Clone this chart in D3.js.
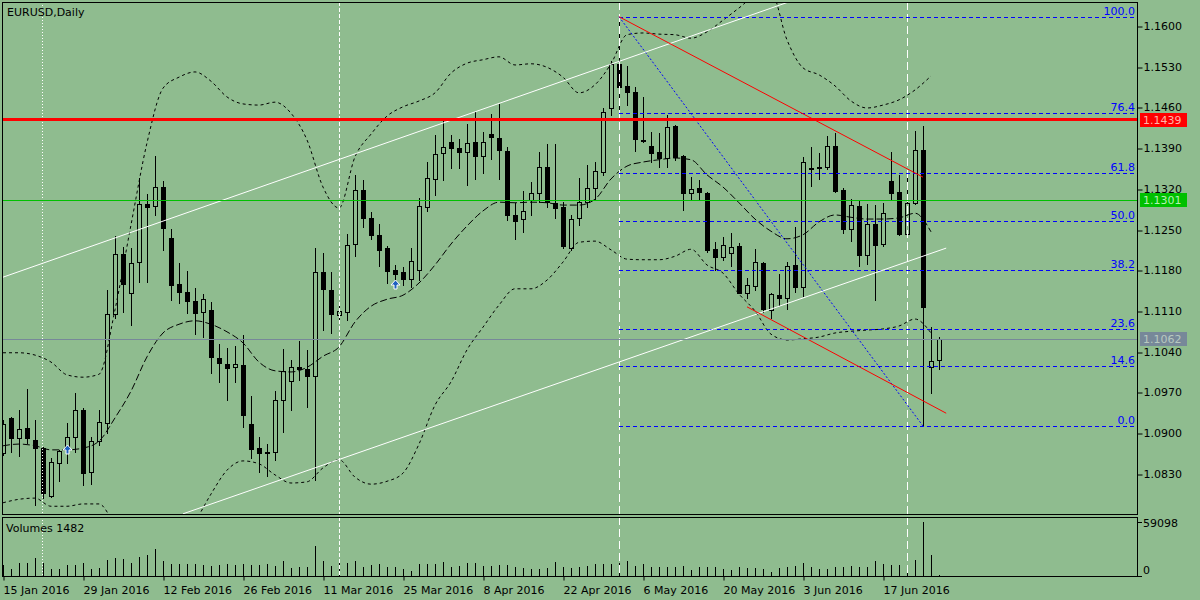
<!DOCTYPE html>
<html>
<head>
<meta charset="utf-8">
<script src="https://cdn.jsdelivr.net/npm/d3@7"></script>
<style>
  body { margin: 0; background: #8fbc8f; }
  svg { display: block; }
  text { font-family: "DejaVu Sans", sans-serif; font-size: 11px; }
</style>
</head>
<body>
<svg id="chart" width="1200" height="600"></svg>
<script>
// ---- daily bars, EURUSD ----
var opens = [1.0866,1.0926,1.0891,1.0909,1.0888,1.0874,1.0792,1.0848,1.0874,1.0893,
  1.0940,1.0833,1.0886,1.0917,1.1105,1.1208,1.1141,1.1194,1.1294,1.1290,
  1.1323,1.1235,1.1156,1.1142,1.1127,1.1108,1.1112,1.1029,1.1019,1.1013,
  1.1017,1.0915,1.0874,1.0866,1.0867,1.0957,1.0989,1.1013,1.1010,1.0998,
  1.1177,1.1146,1.1103,1.1108,1.1225,1.1318,1.1270,1.1241,1.1218,1.1180,
  1.1177,1.1165,1.1180,1.1289,1.1337,1.1382,1.1400,1.1390,1.1383,1.1400,
  1.1376,1.1414,1.1407,1.1385,1.1275,1.1268,1.1301,1.1313,1.1357,1.1296,
  1.1289,1.1218,1.1270,1.1297,1.1321,1.1349,1.1459,1.1535,1.1497,1.1486,
  1.1404,1.1394,1.1383,1.1373,1.1428,1.1376,1.1313,1.1321,1.1313,1.1216,
  1.1203,1.1210,1.1222,1.1141,1.1153,1.1192,1.1112,1.1137,1.1132,1.1189,
  1.1151,1.1356,1.1356,1.1357,1.1394,1.1318,1.1251,1.1290,1.1206,1.1259,
  1.1225,1.1333,1.1314,1.1242,1.1296,1.1387,1.1013,1.1026];
var highs = [1.0922,1.0927,1.0940,1.0976,1.0922,1.0876,1.0857,1.0871,1.0917,1.0969,
  1.0943,1.0893,1.0940,1.1146,1.1239,1.1220,1.1218,1.1339,1.1311,1.1376,
  1.1333,1.1251,1.1192,1.1179,1.1149,1.1139,1.1125,1.1053,1.1046,1.1050,
  1.1069,1.0964,1.0893,1.0881,1.0972,1.1044,1.1026,1.1058,1.1043,1.1218,
  1.1210,1.1177,1.1125,1.1242,1.1344,1.1335,1.1280,1.1259,1.1222,1.1189,
  1.1185,1.1218,1.1304,1.1366,1.1413,1.1440,1.1413,1.1406,1.1431,1.1452,
  1.1418,1.1449,1.1466,1.1392,1.1296,1.1316,1.1332,1.1383,1.1397,1.1397,
  1.1297,1.1275,1.1339,1.1361,1.1366,1.1459,1.1540,1.1616,1.1531,1.1495,
  1.1478,1.1418,1.1416,1.1447,1.1430,1.1378,1.1340,1.1335,1.1314,1.1228,
  1.1237,1.1244,1.1227,1.1167,1.1216,1.1194,1.1141,1.1173,1.1194,1.1254,
  1.1375,1.1392,1.1382,1.1411,1.1416,1.1321,1.1302,1.1301,1.1294,1.1292,
  1.1296,1.1383,1.1344,1.1352,1.1419,1.1428,1.1082,1.1065];
var lows = [1.0862,1.0867,1.0860,1.0883,1.0776,1.0788,1.0790,1.0817,1.0848,1.0867,
  1.0811,1.0812,1.0879,1.0900,1.1098,1.1108,1.1086,1.1160,1.1160,1.1275,
  1.1215,1.1129,1.1124,1.1106,1.1070,1.1065,1.1003,1.0988,1.0957,1.0988,
  1.0910,1.0857,1.0833,1.0826,1.0854,1.0902,1.0940,1.0991,1.0945,1.0819,
  1.1077,1.1072,1.1094,1.1094,1.1204,1.1254,1.1234,1.1187,1.1158,1.1156,
  1.1155,1.1151,1.1163,1.1282,1.1309,1.1335,1.1356,1.1356,1.1327,1.1337,
  1.1347,1.1371,1.1337,1.1266,1.1234,1.1246,1.1275,1.1297,1.1289,1.1270,
  1.1218,1.1215,1.1258,1.1289,1.1302,1.1344,1.1447,1.1447,1.1464,1.1385,
  1.1400,1.1366,1.1357,1.1357,1.1370,1.1284,1.1301,1.1301,1.1211,1.1180,
  1.1198,1.1187,1.1141,1.1132,1.1146,1.1108,1.1098,1.1120,1.1113,1.1142,
  1.1136,1.1325,1.1337,1.1354,1.1314,1.1244,1.1230,1.1187,1.1191,1.1129,
  1.1222,1.1301,1.1241,1.1237,1.1294,1.0912,1.0969,1.1010];
var closes = [1.0915,1.0891,1.0907,1.0891,1.0874,1.0797,1.0850,1.0869,1.0893,1.0940,
  1.0831,1.0886,1.0919,1.1105,1.1208,1.1156,1.1192,1.1294,1.1289,1.1323,
  1.1253,1.1155,1.1142,1.1127,1.1106,1.1130,1.1031,1.1020,1.1012,1.1019,
  1.0931,1.0872,1.0866,1.0867,1.0957,1.1007,1.1013,1.1010,1.0998,1.1177,
  1.1148,1.1105,1.1110,1.1223,1.1318,1.1270,1.1241,1.1215,1.1179,1.1173,
  1.1165,1.1196,1.1290,1.1339,1.1380,1.1392,1.1390,1.1383,1.1399,1.1376,
  1.1400,1.1409,1.1387,1.1275,1.1265,1.1282,1.1313,1.1357,1.1297,1.1287,
  1.1222,1.1268,1.1297,1.1321,1.1351,1.1452,1.1535,1.1495,1.1486,1.1406,
  1.1402,1.1382,1.1373,1.1426,1.1375,1.1313,1.1320,1.1314,1.1215,1.1203,
  1.1223,1.1220,1.1141,1.1155,1.1194,1.1113,1.1139,1.1132,1.1187,1.1151,
  1.1366,1.1354,1.1357,1.1394,1.1316,1.1251,1.1292,1.1206,1.1259,1.1223,
  1.1278,1.1313,1.1242,1.1296,1.1387,1.1117,1.1024,1.1062];
var volumes = [12000,7660,13890,13890,19360,13890,7660,7660,12030,12030,
  13890,7660,8420,17500,19360,18270,13890,21110,22970,29210,
  16410,12800,12800,12800,12800,12030,10940,12030,12800,12030,
  12800,12030,12030,12800,10940,16410,9080,10170,10170,32820,
  16410,10940,13890,14550,16410,10170,12030,12800,10170,9520,
  7660,5470,12800,12800,12800,15320,10170,10940,13890,13890,
  10940,11270,12030,12030,9520,8420,7660,7660,8420,15320,
  9520,8420,10170,10940,12800,12800,12800,14550,16410,10940,
  12800,9520,9520,9520,9520,10940,6560,9520,9520,9520,
  7660,6560,9520,8420,8420,7660,4700,8420,10170,10940,
  14550,9520,7660,7660,9520,10170,10940,10170,9520,16410,
  12800,12030,12030,10940,17500,59098,22970,1482];

// Bollinger bands, read every second bar (bar 0, 2, 4 ... 116)
var bbUpper = [1.1038,1.1038,1.1034,1.1022,1.1000,1.0996,1.1001,1.1112,1.1258,1.1399,
  1.1493,1.1512,1.1521,1.1505,1.1478,1.1466,1.1464,1.1469,1.1450,1.1404,
  1.1323,1.1287,1.1375,1.1414,1.1445,1.1461,1.1471,1.1485,1.1519,1.1536,
  1.1542,1.1547,1.1533,1.1535,1.1529,1.1512,1.1485,1.1499,1.1535,1.1585,
  1.1588,1.1586,1.1585,1.1579,1.1590,1.1610,1.1631,1.1652,1.1658,1.1576,
  1.1528,1.1516,1.1497,1.1471,1.1459,1.1464,1.1473,1.1490,1.1514];
var bbMiddle = [1.0878,1.0881,1.0878,1.0871,1.0871,1.0874,1.0886,1.0926,1.0972,1.1031,
  1.1072,1.1087,1.1093,1.1087,1.1074,1.1055,1.1022,1.1007,1.1005,1.1013,
  1.1032,1.1048,1.1091,1.1118,1.1130,1.1137,1.1158,1.1189,1.1225,1.1256,
  1.1282,1.1297,1.1296,1.1297,1.1296,1.1292,1.1292,1.1302,1.1337,1.1359,
  1.1366,1.1370,1.1373,1.1370,1.1344,1.1323,1.1296,1.1268,1.1247,1.1234,
  1.1241,1.1263,1.1275,1.1271,1.1268,1.1268,1.1270,1.1278,1.1246];
var bbLower = [1.0780,1.0786,1.0788,1.0774,1.0774,1.0778,1.0778,1.0742,1.0707,1.0682,
  1.0682,1.0707,1.0747,1.0795,1.0836,1.0852,1.0847,1.0828,1.0814,1.0816,
  1.0840,1.0854,1.0824,1.0812,1.0817,1.0831,1.0881,1.0948,1.0988,1.1043,
  1.1082,1.1120,1.1148,1.1148,1.1163,1.1194,1.1228,1.1230,1.1215,1.1199,
  1.1198,1.1198,1.1204,1.1216,1.1189,1.1175,1.1139,1.1110,1.1070,1.1060,
  1.1062,1.1065,1.1072,1.1075,1.1077,1.1079,1.1084,1.1096,1.1072];
var bbBars = d3.range(0, 117, 2);

// axis ticks
var priceTicks = [1.1600,1.1530,1.1460,1.1390,1.1320,1.1250,1.1180,1.1110,1.1040,1.0970,1.0900,1.0830];
var dateBars = [0,10,20,30,40,50,60,70,80,90,100,110];
var dateLabels = ["15 Jan 2016","29 Jan 2016","12 Feb 2016","26 Feb 2016","11 Mar 2016","25 Mar 2016",
  "8 Apr 2016","22 Apr 2016","6 May 2016","20 May 2016","3 Jun 2016","17 Jun 2016"];
var volTicks = [59098, 0];

// objects drawn on the chart: [bar, price] pairs
var channelUpper = [[0, 1.1168], [100, 1.1650]];
var channelLower = [[22.5, 1.0761], [117.9, 1.1218]];
var redTrendUpper = [[77, 1.1616], [115, 1.1340]];
var redTrendLower = [[93, 1.1117], [117.9, 1.0934]];
var fibAnchor = [[77, 1.1616], [115, 1.0912]];
var fibLevels = [0, 14.6, 23.6, 38.2, 50.0, 61.8, 76.4, 100.0];
var hLinePrices = [1.1439, 1.1301, 1.1062];   // resistance, support, bid
var vLineBars = [4.9, 42, 77, 113];
var arrowBars = [8, 49];
var arrowPrices = [1.0871, 1.1155];

// ---- layout ----
var bg = "#8fbc8f";
var left = 2, right = 1137, mainTop = 2, mainBot = 514, volTop = 517, volBot = 576;

var svg = d3.select("#chart");
var x = d3.scaleLinear().domain([0, 117]).range([3, 939]);
var y = d3.scaleLinear().domain([1.0900, 1.1600]).range([433, 26]);
var yVol = d3.scaleLinear().domain([0, 59098]).range([volBot, 522]);

svg.append("rect").attr("width", 1200).attr("height", 600).attr("fill", bg);

var defs = svg.append("defs");
defs.append("clipPath").attr("id", "mainclip").append("rect")
    .attr("x", left + 1).attr("y", mainTop + 1)
    .attr("width", right - left - 1).attr("height", mainBot - mainTop - 1);
defs.append("clipPath").attr("id", "volclip").append("rect")
    .attr("x", left + 1).attr("y", volTop + 1)
    .attr("width", right - left - 1).attr("height", volBot - volTop);

function px(v) { return Math.round(v) + 0.5; }

var main = svg.append("g").attr("clip-path", "url(#mainclip)");
var vol = svg.append("g").attr("clip-path", "url(#volclip)");

// ---- candles ----
var bars = opens.map(function(o, i){
    return {i: i, o: o, h: highs[i], l: lows[i], c: closes[i]};
});

main.selectAll(".wick").data(bars).join("line")
    .attr("x1", function(d){ return px(x(d.i)); })
    .attr("x2", function(d){ return px(x(d.i)); })
    .attr("y1", function(d){ return Math.round(y(d.h)); })
    .attr("y2", function(d){ return Math.round(y(d.l)) + 1; })
    .attr("stroke", "#000").attr("stroke-width", 1);

main.selectAll(".bear").data(bars.filter(function(d){ return d.c < d.o; })).join("rect")
    .attr("x", function(d){ return Math.round(x(d.i)) - 2; })
    .attr("y", function(d){ return Math.round(y(d.o)); })
    .attr("width", 5)
    .attr("height", function(d){ return Math.max(1, Math.round(y(d.c)) - Math.round(y(d.o)) + 1); })
    .attr("fill", "#000");

main.selectAll(".bull").data(bars.filter(function(d){ return d.c >= d.o; })).join("rect")
    .attr("x", function(d){ return Math.round(x(d.i)) - 1.5; })
    .attr("y", function(d){ return Math.round(y(d.c)) + 0.5; })
    .attr("width", 4)
    .attr("height", function(d){ return Math.max(0, Math.round(y(d.o)) - Math.round(y(d.c))); })
    .attr("fill", bg).attr("stroke", "#000").attr("stroke-width", 1);

// ---- bollinger bands ----
var bbLine = d3.line()
    .x(function(d, k){ return x(bbBars[k]); })
    .y(function(d){ return y(d); })
    .curve(d3.curveMonotoneX);

[[bbUpper, "3,3"], [bbLower, "3,3"], [bbMiddle, "7,3"]].forEach(function(b){
    main.append("path").datum(b[0])
        .attr("d", bbLine)
        .attr("fill", "none").attr("stroke", "#000").attr("stroke-width", 1)
        .attr("stroke-dasharray", b[1]);
});

// ---- volumes ----
vol.selectAll(".vbar").data(volumes).join("line")
    .attr("x1", function(d, i){ return px(x(i)); })
    .attr("x2", function(d, i){ return px(x(i)); })
    .attr("y1", volBot)
    .attr("y2", function(d){ return Math.round(yVol(d)); })
    .attr("stroke", "#000").attr("stroke-width", 1);

// ---- vertical separator lines ----
var vDash = ["1,2", "4,2", "8,4", "8,4"];
vLineBars.forEach(function(b, k){
    [[main, mainTop, mainBot], [vol, volTop, volBot]].forEach(function(p){
        p[0].append("line")
            .attr("x1", px(x(b))).attr("x2", px(x(b)))
            .attr("y1", p[1]).attr("y2", p[2])
            .attr("stroke", "#fff").attr("stroke-width", 1)
            .attr("stroke-dasharray", vDash[k]);
    });
});

// ---- fibonacci retracement ----
var fibHi = fibAnchor[0][1], fibLo = fibAnchor[1][1];
fibLevels.forEach(function(lv){
    var p = fibLo + (fibHi - fibLo) * lv / 100;
    var yy = px(y(p));
    main.append("line")
        .attr("x1", x(fibAnchor[0][0])).attr("x2", right)
        .attr("y1", yy).attr("y2", yy)
        .attr("stroke", "#0000ff").attr("stroke-width", 1)
        .attr("stroke-dasharray", "4,3");
    main.append("text")
        .attr("x", right - 2).attr("y", yy - 3)
        .attr("text-anchor", "end").attr("fill", "#0000ff")
        .text(lv.toFixed(1));
});
main.append("line")
    .attr("x1", x(fibAnchor[0][0])).attr("y1", y(fibAnchor[0][1]))
    .attr("x2", x(fibAnchor[1][0])).attr("y2", y(fibAnchor[1][1]))
    .attr("stroke", "#0000ff").attr("stroke-width", 1).attr("stroke-dasharray", "2,2");

// ---- trend lines / channel ----
function trend(pts, color){
    main.append("line")
        .attr("x1", x(pts[0][0])).attr("y1", y(pts[0][1]))
        .attr("x2", x(pts[1][0])).attr("y2", y(pts[1][1]))
        .attr("stroke", color).attr("stroke-width", 1);
}
trend(channelUpper, "#fff");
trend(channelLower, "#fff");
trend(redTrendUpper, "#ff0000");
trend(redTrendLower, "#ff0000");

// ---- horizontal levels ----
var hColors = ["#ff0000", "#00c000", "#778899"];
var hWidths = [3, 1, 1];
var hTextColors = ["#ffb4a8", "#b4f0b4", "#b8c8c0"];
hLinePrices.forEach(function(p, k){
    main.append("line")
        .attr("x1", left).attr("x2", right)
        .attr("y1", hWidths[k] == 1 ? px(y(p)) : y(p))
        .attr("y2", hWidths[k] == 1 ? px(y(p)) : y(p))
        .attr("stroke", hColors[k]).attr("stroke-width", hWidths[k]);
});

// ---- buy arrows ----
arrowBars.forEach(function(b, k){
    var cx = Math.round(x(b)) + 0.5, cy = Math.round(y(arrowPrices[k]));
    main.append("path")
        .attr("d", "M0,-5 L4.5,0 L1.5,0 L1.5,4 L-1.5,4 L-1.5,0 L-4.5,0 Z")
        .attr("transform", "translate(" + cx + "," + cy + ")")
        .attr("fill", "#1f60c0").attr("stroke", "#fff").attr("stroke-width", 1);
});

// ---- frames ----
svg.append("rect").attr("x", left + 0.5).attr("y", mainTop + 0.5)
    .attr("width", right - left).attr("height", mainBot - mainTop)
    .attr("fill", "none").attr("stroke", "#000");
svg.append("rect").attr("x", left + 0.5).attr("y", volTop + 0.5)
    .attr("width", right - left).attr("height", volBot - volTop)
    .attr("fill", "none").attr("stroke", "#000");

// ---- price axis ----
var yAxis = svg.append("g")
    .attr("transform", "translate(" + (right + 0.5) + ",0)")
    .call(d3.axisRight(y).tickValues(priceTicks).tickSize(5).tickPadding(1)
        .tickFormat(d3.format(".4f")));
yAxis.select(".domain").remove();
yAxis.selectAll("line").attr("stroke", "#000").attr("transform", function(d){
    return "translate(0," + (px(y(d)) - y(d)) + ")";
});
yAxis.selectAll("text").attr("fill", "#000")
    .style("font-family", "DejaVu Sans").style("font-size", "11px");

// price labels on the axis
hLinePrices.forEach(function(p, k){
    var yy = Math.round(y(p));
    svg.append("rect").attr("x", right + 3).attr("y", yy - 7)
        .attr("width", 47).attr("height", 14).attr("fill", hColors[k]);
    svg.append("text").attr("x", right + 6).attr("y", yy).attr("dy", "0.36em")
        .attr("fill", hTextColors[k]).text(p.toFixed(4));
});

// ---- volume axis ----
volTicks.forEach(function(v){
    var yy = Math.round(yVol(v));
    svg.append("line").attr("x1", right).attr("x2", right + 5)
        .attr("y1", yy + 0.5).attr("y2", yy + 0.5).attr("stroke", "#000");
    svg.append("text").attr("x", right + 6).attr("y", v > 0 ? yy + 5 : yy - 2)
        .text(v);
});

// ---- time axis ----
var xAxis = svg.append("g")
    .attr("transform", "translate(0," + (volBot + 0.5) + ")")
    .call(d3.axisBottom(x).tickValues(dateBars).tickSize(4)
        .tickFormat(function(d, k){ return dateLabels[k]; }));
xAxis.select(".domain").remove();
xAxis.selectAll("line").attr("stroke", "#000").attr("transform", function(d){
    return "translate(" + (px(x(d)) - x(d)) + ",0)";
});
xAxis.selectAll("text").attr("fill", "#000").attr("text-anchor", "start")
    .attr("x", 0).attr("y", 17).attr("dy", null)
    .style("font-family", "DejaVu Sans").style("font-size", "11px");

// ---- captions ----
svg.append("text").attr("x", 7).attr("y", 16).text("EURUSD,Daily");
svg.append("text").attr("x", 6).attr("y", 532).text("Volumes " + volumes[volumes.length - 1]);
</script>
</body>
</html>
